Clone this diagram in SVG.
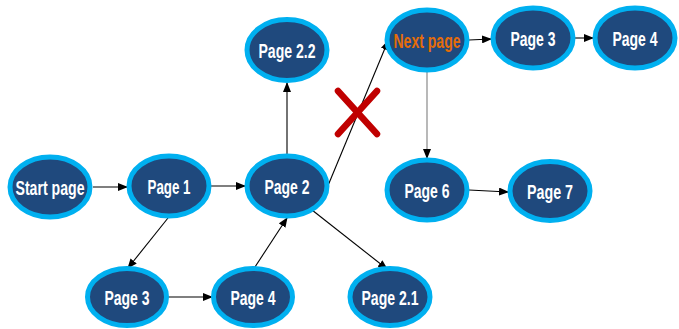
<svg xmlns="http://www.w3.org/2000/svg" width="679" height="329" viewBox="0 0 679 329">
<style>
.n ellipse{fill:#1f497d;stroke:#00b0f0;stroke-width:5}
.n text{font-family:"Liberation Sans",Arial,sans-serif;font-weight:bold;font-size:20px;fill:#ffffff;text-anchor:middle}
.c line{stroke:#000;stroke-width:1.1;marker-end:url(#ah)}
</style>
<defs>
<marker id="ah" markerWidth="10" markerHeight="8" refX="9" refY="4" orient="auto" markerUnits="userSpaceOnUse">
<path d="M0,0 L10,4 L0,8 Z" fill="#000"/>
</marker>
</defs>
<rect width="679" height="329" fill="#ffffff"/>
<g id="connectors" class="c">
<line x1="93" y1="187" x2="127" y2="187"/>
<line x1="211" y1="186" x2="245" y2="186"/>
<line x1="287" y1="155" x2="287" y2="83"/>
<line x1="327" y1="188" x2="388" y2="41"/>
<line x1="427" y1="72" x2="427" y2="158" style="stroke:#7f7f7f"/>
<line x1="469" y1="40" x2="491" y2="39"/>
<line x1="575" y1="38" x2="593" y2="38"/>
<line x1="469" y1="190" x2="508" y2="192"/>
<line x1="168" y1="218" x2="128" y2="268"/>
<line x1="168" y1="297" x2="212" y2="297"/>
<line x1="253" y1="270" x2="287" y2="218"/>
<line x1="312" y1="210" x2="387" y2="269"/>
</g>
<g id="cross" stroke="#c00000" stroke-width="6.5" stroke-linecap="round">
<line x1="338" y1="91" x2="377" y2="134"/>
<line x1="338" y1="134" x2="377" y2="91"/>
</g>
<g id="start" class="n"><ellipse cx="50" cy="187" rx="40" ry="30"/><text x="50" y="194.5" textLength="69" lengthAdjust="spacingAndGlyphs">Start page</text></g>
<g id="page1" class="n"><ellipse cx="169" cy="186" rx="40" ry="30"/><text x="169" y="193.5" textLength="43" lengthAdjust="spacingAndGlyphs">Page 1</text></g>
<g id="page2" class="n"><ellipse cx="287" cy="186" rx="40" ry="30"/><text x="287" y="193.5" textLength="45" lengthAdjust="spacingAndGlyphs">Page 2</text></g>
<g id="page22" class="n"><ellipse cx="287" cy="50" rx="40" ry="30.5"/><text x="287" y="57.5" textLength="57" lengthAdjust="spacingAndGlyphs">Page 2.2</text></g>
<g id="nextpage" class="n"><ellipse cx="427" cy="40" rx="40" ry="30"/><text x="427" y="47.5" textLength="67" lengthAdjust="spacingAndGlyphs" style="fill:#e46c0a">Next page</text></g>
<g id="page3top" class="n"><ellipse cx="533" cy="38" rx="40" ry="30"/><text x="533" y="45.5" textLength="45" lengthAdjust="spacingAndGlyphs">Page 3</text></g>
<g id="page4top" class="n"><ellipse cx="635" cy="38" rx="40" ry="30"/><text x="635" y="45.5" textLength="45" lengthAdjust="spacingAndGlyphs">Page 4</text></g>
<g id="page6" class="n"><ellipse cx="427" cy="190" rx="40" ry="30"/><text x="427" y="197.5" textLength="45" lengthAdjust="spacingAndGlyphs">Page 6</text></g>
<g id="page7" class="n"><ellipse cx="550" cy="191" rx="40" ry="29.5"/><text x="550" y="198.5" textLength="46" lengthAdjust="spacingAndGlyphs">Page 7</text></g>
<g id="page3" class="n"><ellipse cx="127" cy="297" rx="39.5" ry="28.5"/><text x="127" y="304.5" textLength="45" lengthAdjust="spacingAndGlyphs">Page 3</text></g>
<g id="page4" class="n"><ellipse cx="253" cy="297" rx="39.5" ry="28.5"/><text x="253" y="304.5" textLength="45" lengthAdjust="spacingAndGlyphs">Page 4</text></g>
<g id="page21" class="n"><ellipse cx="390" cy="297" rx="40" ry="28.5"/><text x="390" y="304.5" textLength="57" lengthAdjust="spacingAndGlyphs">Page 2.1</text></g>
</svg>
